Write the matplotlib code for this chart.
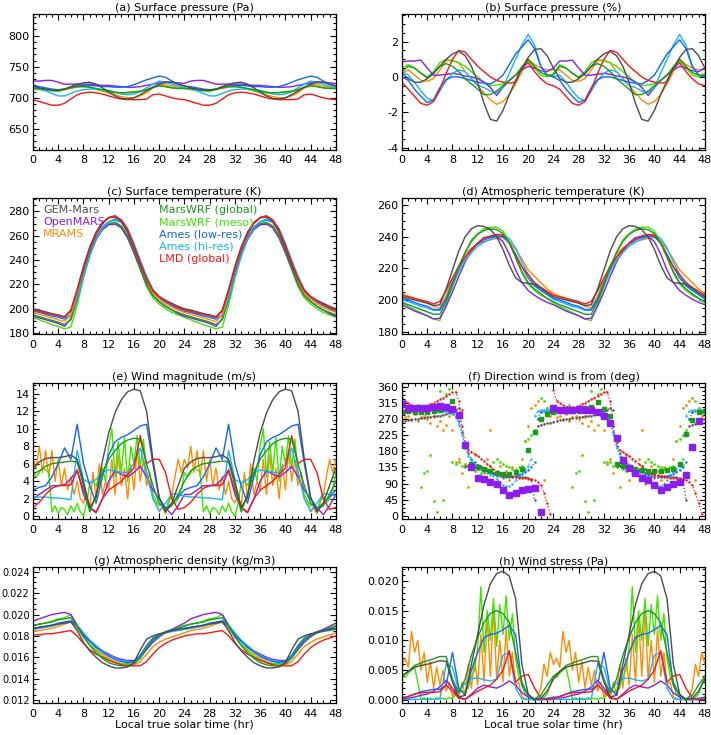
import matplotlib
matplotlib.use('Agg')
import matplotlib.pyplot as plt
import numpy as np
from matplotlib.ticker import MultipleLocator, AutoMinorLocator, FormatStrFormatter

plt.rcParams['font.family'] = 'DejaVu Sans'
plt.rcParams['font.size'] = 8
plt.rcParams['axes.unicode_minus'] = False

# one sol of local true solar time; every panel shows two sols
hours = np.arange(0, 25)
half_hours = np.arange(0, 24.5, 0.5)
hours_48 = np.arange(0, 49)

names = ['GEM-Mars', 'OpenMARS', 'MRAMS', 'MarsWRF (global)', 'MarsWRF (meso)',
         'Ames (low-res)', 'Ames (hi-res)', 'LMD (global)']
gem_col = '#4c4c4c'
omars_col = '#8c1cf0'
mrams_col = '#ff8c00'
wrfg_col = '#1a9a1a'
wrfm_col = '#3ce600'
ames_lo_col = '#1464ff'
ames_hi_col = '#14b4ff'
lmd_col = '#ff1414'

# (a) surface pressure, Pa (hourly)
a_gem = [719, 716, 714, 712, 712, 714, 718, 722, 724, 725, 722, 716, 709, 703, 699, 698, 700, 705, 711, 717, 722, 726, 725, 722, 719]
a_omars = [727, 727, 728, 728, 725, 722, 722, 722, 722, 722, 721, 720, 720, 719, 718, 717, 717, 718, 720, 722, 724, 724, 725, 724, 723]
a_mrams = [714, 713, 712, 712, 712, 713, 715, 717, 718, 717, 714, 711, 708, 705, 702, 700, 700, 703, 708, 716, 722, 721, 719, 717, 715]
a_wrfg = [716, 715, 714, 712, 712, 714, 716, 718, 718, 717, 715, 713, 711, 709, 708, 708, 709, 710, 713, 717, 720, 718, 716, 715, 715]
a_wrfm = [715, 714, 712, 711, 710, 713, 717, 720, 719, 717, 714, 711, 709, 708, 708, 709, 710, 711, 713, 716, 719, 718, 716, 715, 715]
a_ames_lo = [719, 718, 716, 714, 713, 714, 717, 719, 720, 720, 719, 718, 718, 717, 717, 718, 721, 725, 729, 732, 735, 733, 727, 722, 719]
a_ames_hi = [715, 714, 711, 707, 703, 703, 707, 711, 713, 714, 714, 713, 712, 709, 706, 705, 706, 710, 716, 722, 727, 725, 722, 719, 716]
a_lmd = [697, 694, 691, 688, 688, 691, 698, 705, 708, 709, 708, 706, 703, 700, 698, 697, 697, 697, 698, 705, 706, 703, 700, 698, 697]

# (b) surface pressure, % (hourly)
b_gem = [0.2, -0.1, -0.3, -0.3, -0.1, 0.2, 0.6, 1.0, 1.3, 1.45, 1.2, 0.6, -0.3, -1.5, -2.4, -2.5, -1.9, -1.0, -0.2, 0.5, 1.1, 1.55, 1.6, 1.2, 0.5]
b_omars = [0.85, 0.9, 0.9, 0.95, 0.5, 0.1, 0.1, 0.15, 0.2, 0.15, 0.05, 0.0, -0.1, -0.3, -0.6, -1.05, -0.6, -0.2, 0.1, 0.4, 0.6, 0.5, 0.35, 0.3, 0.5]
b_mrams = [0.2, 0.4, 0.1, -0.2, -0.25, -0.1, 0.4, 0.9, 0.95, 0.8, 0.3, -0.1, -0.5, -0.9, -1.3, -1.55, -1.4, -1.0, -0.4, 0.3, 1.0, 0.7, 0.5, 0.4, 0.4]
b_wrfg = [0.3, 0.6, 0.5, 0.2, -0.05, 0.2, 0.6, 0.75, 0.6, 0.3, -0.1, -0.4, -0.7, -1.0, -1.0, -0.8, -0.5, -0.2, 0.1, 0.5, 1.0, 0.6, 0.25, 0.1, 0.1]
b_wrfm = [0.5, 0.7, 0.5, 0.2, 0.0, 0.3, 0.8, 1.0, 0.9, 0.8, 0.6, 0.3, 0.0, -0.3, -0.5, -0.45, -0.4, -0.2, 0.1, 0.6, 0.9, 0.5, 0.1, 0.0, 0.2]
b_ames_lo = [0.0, -0.2, -0.7, -1.1, -1.45, -1.3, -0.6, -0.15, 0.0, 0.0, -0.1, -0.2, -0.3, -0.35, -0.4, -0.2, 0.1, 0.7, 1.3, 1.7, 2.1, 1.6, 0.6, 0.1, 0.0]
b_ames_hi = [0.3, 0.1, -0.3, -0.8, -1.2, -1.35, -0.8, -0.2, 0.2, 0.4, 0.3, -0.1, -0.5, -0.6, -0.8, -0.9, -0.6, 0.2, 1.0, 1.8, 2.4, 1.8, 0.6, 0.1, 0.0]
b_lmd = [-0.3, -0.7, -1.1, -1.5, -1.6, -1.4, -0.7, 0.2, 1.0, 1.5, 1.4, 1.0, 0.6, 0.3, 0.0, -0.2, -0.3, -0.35, -0.3, 0.5, 0.8, 0.3, -0.1, -0.4, -0.5]

# (c) surface temperature, K (hourly)
c_gem = [200, 199, 197.5, 196, 195, 193.5, 199, 216, 235, 251, 263, 271, 275, 275.5, 272, 263, 250, 236, 224, 215, 210, 207, 204.5, 202, 200]
c_omars = [194, 192.5, 191, 189.5, 188, 185.5, 192, 209, 229, 245, 257, 265, 269, 269.5, 266.5, 258, 246, 233, 220, 211, 206, 202, 199, 196, 194]
c_mrams = [197, 195.5, 194, 192.5, 191, 189.5, 195, 213, 233, 249, 261, 270, 274.5, 275.5, 272, 263, 250, 236, 223, 213, 208, 204, 201, 199, 197]
c_wrfg = [195, 193.5, 192, 190.5, 189, 187, 191, 207, 228, 245, 258, 266, 270, 271, 268, 260, 248, 234, 221, 211, 206, 202, 199, 197, 195]
c_wrfm = [193, 191, 189, 187, 185.5, 183.5, 185, 203, 225, 243, 257, 265, 269.5, 270.5, 267.5, 259, 246, 232, 218, 209, 204, 200, 197, 195, 193]
c_ames_lo = [198, 197, 195.5, 194, 193, 191.5, 195, 210, 229, 246, 258, 267, 271.5, 273, 271, 263, 251, 237, 224, 214, 209, 205.5, 202.5, 200, 198]
c_ames_hi = [199, 198, 196.5, 195, 194, 192.5, 195, 208, 227, 244, 257, 266, 271.5, 274, 273, 266, 254, 240, 227, 216, 210, 206.5, 203.5, 201, 199]
c_lmd = [199, 198, 196.5, 195.5, 194.5, 193, 198, 215, 233, 249, 261, 270, 275, 276.5, 273, 265, 252, 238, 225, 215, 210, 206.5, 203.5, 201, 199]

# (d) atmospheric temperature, K (hourly)
d_gem = [202, 201, 200, 199, 198, 196.5, 197, 207, 219, 231, 240, 245, 247, 246.5, 244.5, 240, 232, 222, 214, 211, 210.5, 210, 207.5, 204.5, 202]
d_omars = [197, 195, 193, 191.5, 190, 188, 188.5, 196, 205, 215, 224, 231, 236, 239.5, 240, 240, 237, 229, 219, 211, 206, 203, 200.5, 198.5, 197]
d_mrams = [204, 202.5, 201, 199.5, 198, 196, 195, 203, 213, 222, 229, 233, 235.5, 237, 238, 239, 239.5, 237, 232, 226, 219, 215, 211, 207, 204]
d_wrfg = [198.5, 197, 195.5, 194, 192.5, 191, 191, 199, 210, 221, 230, 237, 241.5, 244, 245, 244.5, 242, 236, 227, 218, 211, 207, 204, 201, 199]
d_wrfm = [198, 196, 194, 192, 190, 188, 187, 197, 208, 220, 230, 238, 242, 245, 246, 246, 243.5, 237, 227, 217, 210, 206, 203, 201, 198]
d_ames_lo = [201, 200, 198.5, 197, 196, 194, 194, 201, 211, 220, 227, 232, 235.5, 238, 239.5, 240.5, 240, 236, 229, 221, 214, 209, 206, 203.5, 201]
d_ames_hi = [200, 199, 197.5, 196, 195, 193.5, 193.5, 200, 209, 218, 225, 230, 234, 236.5, 238.5, 240, 241, 239, 233, 224, 216, 210, 206.5, 203.5, 200.5]
d_lmd = [203, 202, 201, 200, 199, 197.5, 199, 206, 214, 221, 227, 232, 236, 239, 240.5, 241.5, 241, 236, 228, 221, 216, 211, 208, 205.5, 203]

# (e) wind magnitude, m/s (hourly; MRAMS and MarsWRF meso half-hourly)
e_gem = [5.5, 6.2, 6.6, 6.7, 6.7, 6.8, 7.0, 6.5, 4.0, 1.0, 2.2, 6.3, 9.5, 11.8, 13.3, 14.2, 14.5, 14.3, 12.0, 6.5, 2.2, 0.5, 1.5, 3.5, 5.5]
e_omars = [2.0, 2.5, 3.0, 3.5, 3.5, 3.6, 4.3, 5.3, 2.5, 1.0, 0.4, 2.0, 4.0, 5.2, 4.8, 4.5, 5.0, 5.7, 4.5, 3.0, 2.0, 1.0, 0.2, 1.2, 2.5]
e_wrfg = [4.8, 5.2, 5.7, 6.0, 6.1, 6.2, 6.3, 6.2, 3.5, 0.5, 2.5, 5.0, 6.5, 7.5, 8.3, 8.7, 8.9, 8.8, 6.0, 3.5, 1.5, 0.8, 1.2, 2.5, 4.0]
e_ames_lo = [3.0, 3.3, 3.5, 4.5, 6.0, 7.8, 6.5, 10.5, 6.0, 3.5, 1.5, 4.5, 7.0, 8.5, 9.0, 9.3, 9.8, 10.3, 10.5, 6.0, 2.0, 0.8, 1.5, 2.2, 3.0]
e_ames_hi = [2.2, 2.2, 2.2, 2.1, 2.1, 2.0, 1.9, 7.5, 4.2, 3.8, 4.2, 5.0, 5.3, 5.2, 5.0, 5.0, 6.0, 7.8, 5.0, 2.0, 0.6, 1.5, 2.6, 2.5, 2.3]
e_lmd = [1.0, 1.6, 2.5, 3.2, 3.5, 3.5, 3.6, 5.2, 3.0, 1.0, 0.5, 2.0, 3.0, 3.5, 4.0, 4.8, 5.5, 9.2, 6.0, 6.5, 6.5, 5.0, 2.0, 0.8, 1.0]
e_mrams = [6.5, 5.5, 8.0, 5.0, 7.5, 4.5, 7.5, 4.0, 6.5, 3.5, 5.5, 3.0, 4.5, 2.5, 4.0, 2.0, 1.5, 2.5, 1.0, 5.0,
           2.0, 6.0, 2.5, 4.0, 3.0, 6.5, 2.5, 7.0, 3.5, 5.5, 2.0, 6.0, 3.0, 7.5, 4.0, 6.5, 3.5, 5.0, 2.0, 1.5,
           0.5, 1.0, 0.3, 1.5, 2.5, 4.5, 6.5, 5.0, 6.5]
e_wrfm = [5.0, 4.5, 5.0, 5.5, 5.3, 5.0, 0.5, 1.2, 0.3, 1.0, 0.8, 0.2, 1.2, 0.5, 1.5, 0.5, 0.0, 1.5, 3.8, 4.0,
          3.5, 4.5, 5.5, 4.0, 8.0, 10.0, 4.5, 8.5, 5.0, 9.0, 4.0, 8.0, 6.0, 9.2, 5.5, 8.8, 5.0, 3.5, 2.5, 1.8,
          1.2, 1.5, 0.5, 1.8, 2.5, 1.5, 2.0, 3.0, 5.0]

# (f) direction wind is from, deg (half-hourly dots; OpenMARS and MarsWRF global hourly over 48 h)
f_gem = [265, 266, 268, 269, 270, 271, 272, 273, 275, 276, 278, 279, 280, 282, 285, 288, 292, 296, 300, 295,
         140, 139, 137, 135, 132, 130, 128, 125, 122, 120, 118, 116, 115, 113, 112, 111, 110, 109, 108, 107,
         106, 100, 45, 250, 255, 257, 258, 260, 262]
f_mrams = [285, 275, 280, 270, 285, 265, 275, 280, 270, 260, 275, 250, 265, 240, 255, 280, 240, 150, 160, 120,
           145, 80, 130, 170, 100, 140, 120, 160, 240, 90, 110, 140, 105, 125, 100, 135, 130, 115, 160, 210,
           250, 300, 310, 320, 290, 100, 300, 280, 290]
f_wrfm = [285, 290, 295, 300, 305, 310, 80, 120, 125, 170, 40, 10, 350, 45, 340, 355, 150, 145, 150, 140,
          135, 140, 130, 125, 130, 120, 125, 130, 140, 150, 160, 150, 145, 140, 135, 130, 125, 135, 140, 210,
          215, 225, 240, 270, 330, 320, 300, 290, 290]
f_ames_lo = [290, 291, 292, 293, 295, 296, 297, 297, 298, 297, 296, 296, 295, 294, 292, 290, 288, 280, 265, 235,
             195, 175, 160, 150, 143, 137, 132, 127, 122, 118, 114, 110, 108, 107, 107, 108, 110, 113, 118, 123,
             128, 135, 150, 270, 290, 292, 292, 291, 290]
f_ames_hi = [295, 296, 298, 299, 300, 300, 300, 300, 300, 300, 299, 298, 297, 295, 293, 290, 285, 275, 255, 225,
             190, 168, 155, 145, 138, 132, 126, 120, 115, 110, 103, 92, 85, 82, 82, 88, 100, 112, 122, 130,
             138, 160, 280, 292, 295, 296, 296, 296, 295]
f_lmd = [330, 322, 315, 309, 305, 303, 303, 305, 308, 312, 316, 320, 325, 330, 335, 340, 345, 346, 320, 250,
         205, 185, 178, 172, 168, 160, 152, 145, 138, 130, 125, 120, 115, 112, 110, 108, 107, 106, 105, 105,
         104, 103, 100, 95, 85, 65, 35, 5, 352]
f_omars = [312, 301, 301, 301, 301, 305, 306, 305, 298, 281, 198, 136, 106, 104, 94, 90, 71, 59, 65, 73, 74, 78, 11, np.nan,
           301, 295, 295, 295, 297, 295, 295, 291, 280, 258, 216, 156, 134, 119, 106, 99, 85, 71, 79, 88, 94, 113, 193, 264,
           np.nan]
f_wrfg = [290, 292, 290, 290, 290, 292, 295, 300, 320, 280, 195, 145, 135, 130, 125, 120, 118, 118, 122, 130,
          185, 235, 270, 285, 290, 292, 292, 292, 292, 300, 305, 318, 298, 280, 145, 140, 135, 130, 128, 125,
          125, 125, 128, 130, 145, 228, 268, 290, 292]

# (g) atmospheric density, kg/m3 (hourly)
g_gem = [0.0187, 0.0188, 0.0189, 0.0190, 0.0191, 0.0192, 0.0193, 0.0185, 0.0174, 0.0166, 0.0160, 0.0155, 0.0152, 0.0150, 0.0150, 0.0151, 0.0155, 0.0167, 0.0177, 0.0180, 0.0182, 0.0183, 0.0185, 0.0186, 0.0187]
g_omars = [0.0194, 0.0196, 0.0198, 0.0200, 0.0201, 0.0202, 0.0200, 0.0190, 0.0181, 0.0175, 0.0170, 0.0166, 0.0163, 0.0160, 0.0158, 0.0157, 0.0157, 0.0160, 0.0167, 0.0174, 0.0179, 0.0183, 0.0186, 0.0189, 0.0192]
g_mrams = [0.0184, 0.0185, 0.0186, 0.0187, 0.0189, 0.0191, 0.0193, 0.0187, 0.0179, 0.0172, 0.0167, 0.0163, 0.0159, 0.0156, 0.0154, 0.0153, 0.0153, 0.0156, 0.0163, 0.0170, 0.0174, 0.0177, 0.0179, 0.0181, 0.0183]
g_wrfg = [0.0190, 0.0191, 0.0192, 0.0193, 0.0195, 0.0196, 0.0197, 0.0189, 0.0179, 0.0171, 0.0164, 0.0159, 0.0155, 0.0153, 0.0152, 0.0152, 0.0154, 0.0159, 0.0168, 0.0176, 0.0180, 0.0183, 0.0185, 0.0187, 0.0189]
g_wrfm = [0.0190, 0.0191, 0.0192, 0.0194, 0.0196, 0.0197, 0.0200, 0.0190, 0.0180, 0.0172, 0.0166, 0.0161, 0.0158, 0.0155, 0.0154, 0.0154, 0.0155, 0.0160, 0.0170, 0.0177, 0.0181, 0.0184, 0.0186, 0.0188, 0.0190]
g_ames_lo = [0.0187, 0.0188, 0.0189, 0.0190, 0.0192, 0.0193, 0.0194, 0.0189, 0.0181, 0.0175, 0.0169, 0.0165, 0.0161, 0.0158, 0.0156, 0.0155, 0.0156, 0.0162, 0.0171, 0.0178, 0.0181, 0.0184, 0.0185, 0.0186, 0.0187]
g_ames_hi = [0.0186, 0.0187, 0.0188, 0.0189, 0.0191, 0.0192, 0.0194, 0.0190, 0.0183, 0.0176, 0.0171, 0.0166, 0.0162, 0.0159, 0.0157, 0.0156, 0.0156, 0.0160, 0.0169, 0.0176, 0.0180, 0.0183, 0.0184, 0.0185, 0.0186]
g_lmd = [0.0181, 0.0181, 0.0182, 0.0182, 0.0183, 0.0184, 0.0185, 0.0180, 0.0173, 0.0167, 0.0163, 0.0160, 0.0157, 0.0155, 0.0153, 0.0152, 0.0152, 0.0152, 0.0156, 0.0163, 0.0169, 0.0173, 0.0176, 0.0178, 0.0180]

# (h) wind stress, Pa (hourly; MRAMS and MarsWRF meso half-hourly)
h_gem = [0.0040, 0.0048, 0.0055, 0.0058, 0.0060, 0.0063, 0.0066, 0.0065, 0.0030, 0.0005, 0.0008, 0.0060, 0.0110, 0.0160, 0.0195, 0.0212, 0.0216, 0.0208, 0.0170, 0.0060, 0.0010, 0.0000, 0.0003, 0.0015, 0.0035]
h_omars = [0.0002, 0.0003, 0.0005, 0.0008, 0.0010, 0.0015, 0.0022, 0.0033, 0.0020, 0.0005, 0.0001, 0.0010, 0.0020, 0.0025, 0.0022, 0.0020, 0.0025, 0.0032, 0.0025, 0.0012, 0.0005, 0.0002, 0.0000, 0.0002, 0.0005]
h_wrfg = [0.0040, 0.0048, 0.0058, 0.0062, 0.0066, 0.0069, 0.0073, 0.0073, 0.0035, 0.0012, 0.0035, 0.0075, 0.0105, 0.0130, 0.0145, 0.0150, 0.0145, 0.0130, 0.0080, 0.0030, 0.0008, 0.0002, 0.0008, 0.0025, 0.0040]
h_ames_lo = [0.0004, 0.0006, 0.0010, 0.0014, 0.0016, 0.0018, 0.0018, 0.0025, 0.0080, 0.0020, 0.0008, 0.0050, 0.0080, 0.0105, 0.0110, 0.0112, 0.0118, 0.0125, 0.0110, 0.0025, 0.0008, 0.0002, 0.0002, 0.0003, 0.0004]
h_ames_hi = [0.0001, 0.0001, 0.0001, 0.0001, 0.0001, 0.0001, 0.0002, 0.0060, 0.0055, 0.0015, 0.0028, 0.0036, 0.0037, 0.0034, 0.0032, 0.0035, 0.0075, 0.0080, 0.0020, 0.0002, 0.0001, 0.0001, 0.0001, 0.0001, 0.0001]
h_lmd = [0.0003, 0.0006, 0.0010, 0.0012, 0.0013, 0.0013, 0.0014, 0.0025, 0.0015, 0.0003, 0.0001, 0.0008, 0.0015, 0.0020, 0.0025, 0.0035, 0.0050, 0.0083, 0.0030, 0.0040, 0.0043, 0.0020, 0.0003, 0.0000, 0.0002]
h_mrams = [0.0060, 0.0070, 0.0055, 0.0115, 0.0080, 0.0100, 0.0050, 0.0080, 0.0030, 0.0065, 0.0020, 0.0055, 0.0025, 0.0050, 0.0015, 0.0030, 0.0005, 0.0020, 0.0002, 0.0030,
           0.0008, 0.0060, 0.0020, 0.0070, 0.0025, 0.0110, 0.0030, 0.0140, 0.0040, 0.0155, 0.0035, 0.0100, 0.0030, 0.0120, 0.0040, 0.0080, 0.0025, 0.0030, 0.0005, 0.0003,
           0.0000, 0.0001, 0.0000, 0.0005, 0.0020, 0.0060, 0.0040, 0.0080, 0.0060]
h_wrfm = [0.0040, 0.0038, 0.0045, 0.0050, 0.0055, 0.0030, 0.0002, 0.0004, 0.0001, 0.0003, 0.0001, 0.0004, 0.0002, 0.0003, 0.0001, 0.0004, 0.0002, 0.0010, 0.0018, 0.0015,
          0.0015, 0.0020, 0.0040, 0.0050, 0.0090, 0.0190, 0.0080, 0.0150, 0.0100, 0.0170, 0.0090, 0.0160, 0.0110, 0.0175, 0.0100, 0.0145, 0.0070, 0.0040, 0.0025, 0.0010,
          0.0005, 0.0003, 0.0000, 0.0001, 0.0002, 0.0005, 0.0010, 0.0025, 0.0040]


def two_sols(t, vals):
    # same sol shown twice: 0-24 then 24-48
    t = np.asarray(t, dtype=float)
    vals = np.asarray(vals, dtype=float)
    return np.concatenate([t, t[1:] + 24]), np.concatenate([vals, vals[1:]])


def style_axes(ax, title, ylim, ymajor, yfmt=None, xlabel=False, ylabelsize=8):
    ax.set_xlim(0, 48)
    ax.set_ylim(*ylim)
    ax.xaxis.set_major_locator(MultipleLocator(4))
    ax.xaxis.set_minor_locator(MultipleLocator(1))
    ax.yaxis.set_major_locator(MultipleLocator(ymajor))
    ax.yaxis.set_minor_locator(AutoMinorLocator())
    if yfmt:
        ax.yaxis.set_major_formatter(FormatStrFormatter(yfmt))
    ax.tick_params(which='both', direction='in', top=True, right=True, labelsize=8, width=0.8)
    ax.tick_params(which='major', length=4)
    ax.tick_params(which='minor', length=2)
    ax.tick_params(axis='x', pad=4)
    ax.tick_params(axis='y', labelsize=ylabelsize, pad=2.5)
    for s in ax.spines.values():
        s.set_linewidth(0.9)
    ax.set_title(title, fontsize=8, pad=2)
    if xlabel:
        ax.set_xlabel('Local true solar time (hr)', fontsize=8, labelpad=1)


def line_panel(ax, series):
    for t, vals, col in series:
        tt, vv = two_sols(t, vals)
        ax.plot(tt, vv, color=col, lw=1.0)


def dotted(ax, t, vals, col):
    tt, vv = two_sols(t, vals)
    cuts = np.where(np.abs(np.diff(vv)) > 100)[0] + 1
    for ts, vs in zip(np.split(tt, cuts), np.split(vv, cuts)):
        ax.plot(ts, vs, ls=':', lw=0.9, marker='.', ms=1.4, color=col)


fig = plt.figure(figsize=(7.11, 7.35), dpi=100)
lefts = [0.0464, 0.5654]
bottoms = [0.796, 0.5456, 0.2939, 0.0435]
w, h = 0.426, 0.185
axs = [[fig.add_axes([lefts[c], bottoms[r], w, h]) for c in range(2)] for r in range(4)]

# (a)
ax = axs[0][0]
line_panel(ax, [(hours, a_mrams, mrams_col), (hours, a_wrfm, wrfm_col), (hours, a_omars, omars_col),
                (hours, a_ames_hi, ames_hi_col), (hours, a_ames_lo, ames_lo_col), (hours, a_lmd, lmd_col),
                (hours, a_wrfg, wrfg_col), (hours, a_gem, gem_col)])
style_axes(ax, '(a) Surface pressure (Pa)', (616, 835), 50)

# (b)
ax = axs[0][1]
line_panel(ax, [(hours, b_mrams, mrams_col), (hours, b_wrfm, wrfm_col), (hours, b_omars, omars_col),
                (hours, b_ames_hi, ames_hi_col), (hours, b_ames_lo, ames_lo_col), (hours, b_lmd, lmd_col),
                (hours, b_wrfg, wrfg_col), (hours, b_gem, gem_col)])
style_axes(ax, '(b) Surface pressure (%)', (-4.13, 3.56), 2)

# (c)
ax = axs[1][0]
line_panel(ax, [(hours, c_wrfm, wrfm_col), (hours, c_omars, omars_col), (hours, c_wrfg, wrfg_col),
                (hours, c_ames_lo, ames_lo_col), (hours, c_ames_hi, ames_hi_col), (hours, c_mrams, mrams_col),
                (hours, c_gem, gem_col), (hours, c_lmd, lmd_col)])
style_axes(ax, '(c) Surface temperature (K)', (179.3, 291), 20)
legend_cols = [gem_col, omars_col, mrams_col, wrfg_col, wrfm_col, ames_lo_col, ames_hi_col, lmd_col]
legend_pos = [(0.033, 0.915), (0.033, 0.82), (0.033, 0.735),
              (0.416, 0.915), (0.416, 0.82), (0.416, 0.735), (0.416, 0.645), (0.416, 0.555)]
for name, col, (x, y) in zip(names, legend_cols, legend_pos):
    ax.text(x, y, name, color=col, fontsize=8, transform=ax.transAxes, va='center', ha='left')

# (d)
ax = axs[1][1]
line_panel(ax, [(hours, d_mrams, mrams_col), (hours, d_wrfm, wrfm_col), (hours, d_omars, omars_col),
                (hours, d_ames_hi, ames_hi_col), (hours, d_ames_lo, ames_lo_col), (hours, d_lmd, lmd_col),
                (hours, d_wrfg, wrfg_col), (hours, d_gem, gem_col)])
style_axes(ax, '(d) Atmospheric temperature (K)', (178.5, 264.5), 20)

# (e)
ax = axs[2][0]
line_panel(ax, [(half_hours, e_mrams, mrams_col), (half_hours, e_wrfm, wrfm_col), (hours, e_omars, omars_col),
                (hours, e_ames_hi, ames_hi_col), (hours, e_ames_lo, ames_lo_col), (hours, e_lmd, lmd_col),
                (hours, e_wrfg, wrfg_col), (hours, e_gem, gem_col)])
style_axes(ax, '(e) Wind magnitude (m/s)', (-0.3, 15.2), 2)

# (f)
ax = axs[2][1]
tt, vv = two_sols(half_hours, f_mrams)
ax.plot(tt, vv, ls='none', marker='.', ms=2.0, color=mrams_col)
tt, vv = two_sols(half_hours, f_wrfm)
ax.plot(tt, vv, ls='none', marker='.', ms=2.0, color=wrfm_col)
dotted(ax, half_hours, f_gem, gem_col)
dotted(ax, half_hours, f_ames_lo, ames_lo_col)
dotted(ax, half_hours, f_ames_hi, ames_hi_col)
dotted(ax, half_hours, f_lmd, lmd_col)
ax.plot(hours_48, f_wrfg, ls='none', marker='s', ms=3.0, color=wrfg_col)
ax.plot(hours_48, f_omars, ls='none', marker='s', ms=4.0, color=omars_col)
style_axes(ax, '(f) Direction wind is from (deg)', (-9, 371), 45)

# (g)
ax = axs[3][0]
line_panel(ax, [(hours, g_mrams, mrams_col), (hours, g_wrfm, wrfm_col), (hours, g_omars, omars_col),
                (hours, g_ames_hi, ames_hi_col), (hours, g_ames_lo, ames_lo_col), (hours, g_lmd, lmd_col),
                (hours, g_wrfg, wrfg_col), (hours, g_gem, gem_col)])
style_axes(ax, '(g) Atmospheric density (kg/m3)', (0.01172, 0.02444), 0.002, '%.3f', xlabel=True, ylabelsize=7)

# (h)
ax = axs[3][1]
line_panel(ax, [(half_hours, h_mrams, mrams_col), (half_hours, h_wrfm, wrfm_col), (hours, h_omars, omars_col),
                (hours, h_ames_hi, ames_hi_col), (hours, h_ames_lo, ames_lo_col), (hours, h_lmd, lmd_col),
                (hours, h_wrfg, wrfg_col), (hours, h_gem, gem_col)])
style_axes(ax, '(h) Wind stress (Pa)', (-0.0005, 0.0223), 0.005, '%.3f', xlabel=True)

fig.savefig('out.png', dpi=100)
